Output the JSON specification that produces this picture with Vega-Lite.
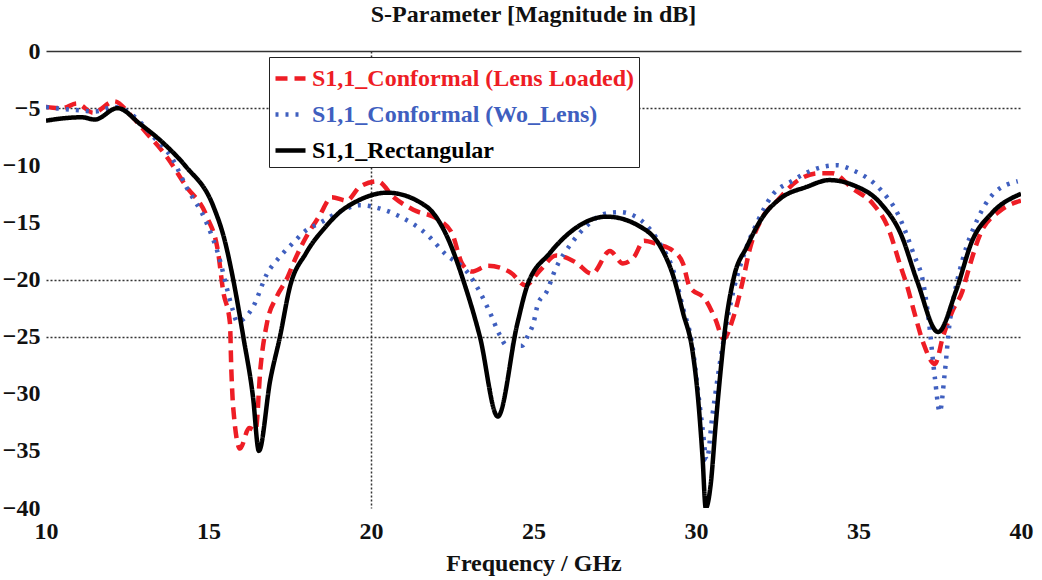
{
  "$schema": "https://vega.github.io/schema/vega-lite/v6.json",
  "autosize": "none",
  "width": 975,
  "height": 457,
  "padding": {"left": 46, "top": 51, "right": 21, "bottom": 72},
  "background": "white",
  "title": {"text": "S-Parameter [Magnitude in dB]", "font": "Liberation Serif", "fontSize": 24, "fontWeight": "bold", "color": "#111", "offset": 12, "anchor": "middle"},
  "config": {"view": {"stroke": null}},
  "datasets": {
    "curves": [
      {"f": 10.0, "s": -4.9, "series": "S1,1_Conformal (Lens Loaded)"},
      {"f": 10.5, "s": -5.0, "series": "S1,1_Conformal (Lens Loaded)"},
      {"f": 10.95, "s": -4.6, "series": "S1,1_Conformal (Lens Loaded)"},
      {"f": 11.45, "s": -5.4, "series": "S1,1_Conformal (Lens Loaded)"},
      {"f": 12.1, "s": -4.4, "series": "S1,1_Conformal (Lens Loaded)"},
      {"f": 12.6, "s": -5.6, "series": "S1,1_Conformal (Lens Loaded)"},
      {"f": 13.1, "s": -7.2, "series": "S1,1_Conformal (Lens Loaded)"},
      {"f": 13.7, "s": -9.2, "series": "S1,1_Conformal (Lens Loaded)"},
      {"f": 14.3, "s": -11.8, "series": "S1,1_Conformal (Lens Loaded)"},
      {"f": 14.95, "s": -14.5, "series": "S1,1_Conformal (Lens Loaded)"},
      {"f": 15.3, "s": -17.7, "series": "S1,1_Conformal (Lens Loaded)"},
      {"f": 15.45, "s": -21.0, "series": "S1,1_Conformal (Lens Loaded)"},
      {"f": 15.66, "s": -23.8, "series": "S1,1_Conformal (Lens Loaded)"},
      {"f": 15.7, "s": -27.7, "series": "S1,1_Conformal (Lens Loaded)"},
      {"f": 15.76, "s": -31.2, "series": "S1,1_Conformal (Lens Loaded)"},
      {"f": 15.97, "s": -34.8, "series": "S1,1_Conformal (Lens Loaded)"},
      {"f": 16.25, "s": -33.0, "series": "S1,1_Conformal (Lens Loaded)"},
      {"f": 16.45, "s": -33.2, "series": "S1,1_Conformal (Lens Loaded)"},
      {"f": 16.6, "s": -27.7, "series": "S1,1_Conformal (Lens Loaded)"},
      {"f": 16.8, "s": -23.8, "series": "S1,1_Conformal (Lens Loaded)"},
      {"f": 17.1, "s": -21.5, "series": "S1,1_Conformal (Lens Loaded)"},
      {"f": 17.4, "s": -20.0, "series": "S1,1_Conformal (Lens Loaded)"},
      {"f": 17.7, "s": -18.0, "series": "S1,1_Conformal (Lens Loaded)"},
      {"f": 18.0, "s": -16.3, "series": "S1,1_Conformal (Lens Loaded)"},
      {"f": 18.4, "s": -14.5, "series": "S1,1_Conformal (Lens Loaded)"},
      {"f": 18.8, "s": -12.8, "series": "S1,1_Conformal (Lens Loaded)"},
      {"f": 19.25, "s": -13.1, "series": "S1,1_Conformal (Lens Loaded)"},
      {"f": 19.65, "s": -11.9, "series": "S1,1_Conformal (Lens Loaded)"},
      {"f": 20.2, "s": -11.4, "series": "S1,1_Conformal (Lens Loaded)"},
      {"f": 20.7, "s": -12.8, "series": "S1,1_Conformal (Lens Loaded)"},
      {"f": 21.3, "s": -13.9, "series": "S1,1_Conformal (Lens Loaded)"},
      {"f": 22.1, "s": -14.8, "series": "S1,1_Conformal (Lens Loaded)"},
      {"f": 22.5, "s": -16.0, "series": "S1,1_Conformal (Lens Loaded)"},
      {"f": 22.8, "s": -18.6, "series": "S1,1_Conformal (Lens Loaded)"},
      {"f": 23.1, "s": -19.3, "series": "S1,1_Conformal (Lens Loaded)"},
      {"f": 23.6, "s": -18.8, "series": "S1,1_Conformal (Lens Loaded)"},
      {"f": 24.3, "s": -19.4, "series": "S1,1_Conformal (Lens Loaded)"},
      {"f": 24.75, "s": -20.5, "series": "S1,1_Conformal (Lens Loaded)"},
      {"f": 25.2, "s": -19.2, "series": "S1,1_Conformal (Lens Loaded)"},
      {"f": 25.7, "s": -17.9, "series": "S1,1_Conformal (Lens Loaded)"},
      {"f": 26.3, "s": -18.5, "series": "S1,1_Conformal (Lens Loaded)"},
      {"f": 26.8, "s": -19.5, "series": "S1,1_Conformal (Lens Loaded)"},
      {"f": 27.35, "s": -17.5, "series": "S1,1_Conformal (Lens Loaded)"},
      {"f": 27.75, "s": -18.6, "series": "S1,1_Conformal (Lens Loaded)"},
      {"f": 28.1, "s": -18.0, "series": "S1,1_Conformal (Lens Loaded)"},
      {"f": 28.4, "s": -16.6, "series": "S1,1_Conformal (Lens Loaded)"},
      {"f": 28.8, "s": -16.9, "series": "S1,1_Conformal (Lens Loaded)"},
      {"f": 29.3, "s": -17.5, "series": "S1,1_Conformal (Lens Loaded)"},
      {"f": 29.6, "s": -18.6, "series": "S1,1_Conformal (Lens Loaded)"},
      {"f": 29.8, "s": -20.6, "series": "S1,1_Conformal (Lens Loaded)"},
      {"f": 30.3, "s": -21.8, "series": "S1,1_Conformal (Lens Loaded)"},
      {"f": 30.6, "s": -23.5, "series": "S1,1_Conformal (Lens Loaded)"},
      {"f": 30.85, "s": -25.2, "series": "S1,1_Conformal (Lens Loaded)"},
      {"f": 31.15, "s": -23.3, "series": "S1,1_Conformal (Lens Loaded)"},
      {"f": 31.45, "s": -20.0, "series": "S1,1_Conformal (Lens Loaded)"},
      {"f": 31.65, "s": -17.4, "series": "S1,1_Conformal (Lens Loaded)"},
      {"f": 32.06, "s": -14.5, "series": "S1,1_Conformal (Lens Loaded)"},
      {"f": 32.5, "s": -13.1, "series": "S1,1_Conformal (Lens Loaded)"},
      {"f": 33.1, "s": -11.4, "series": "S1,1_Conformal (Lens Loaded)"},
      {"f": 33.8, "s": -10.7, "series": "S1,1_Conformal (Lens Loaded)"},
      {"f": 34.2, "s": -10.7, "series": "S1,1_Conformal (Lens Loaded)"},
      {"f": 34.8, "s": -12.0, "series": "S1,1_Conformal (Lens Loaded)"},
      {"f": 35.45, "s": -13.4, "series": "S1,1_Conformal (Lens Loaded)"},
      {"f": 35.9, "s": -15.4, "series": "S1,1_Conformal (Lens Loaded)"},
      {"f": 36.3, "s": -18.9, "series": "S1,1_Conformal (Lens Loaded)"},
      {"f": 36.5, "s": -20.6, "series": "S1,1_Conformal (Lens Loaded)"},
      {"f": 36.7, "s": -22.7, "series": "S1,1_Conformal (Lens Loaded)"},
      {"f": 37.0, "s": -25.6, "series": "S1,1_Conformal (Lens Loaded)"},
      {"f": 37.35, "s": -27.4, "series": "S1,1_Conformal (Lens Loaded)"},
      {"f": 37.6, "s": -25.0, "series": "S1,1_Conformal (Lens Loaded)"},
      {"f": 37.9, "s": -22.7, "series": "S1,1_Conformal (Lens Loaded)"},
      {"f": 38.2, "s": -21.0, "series": "S1,1_Conformal (Lens Loaded)"},
      {"f": 38.35, "s": -19.5, "series": "S1,1_Conformal (Lens Loaded)"},
      {"f": 38.75, "s": -16.0, "series": "S1,1_Conformal (Lens Loaded)"},
      {"f": 39.35, "s": -14.0, "series": "S1,1_Conformal (Lens Loaded)"},
      {"f": 40.0, "s": -13.1, "series": "S1,1_Conformal (Lens Loaded)"},

      {"f": 10.0, "s": -4.9, "series": "S1,1_Conformal (Wo_Lens)"},
      {"f": 10.6, "s": -5.1, "series": "S1,1_Conformal (Wo_Lens)"},
      {"f": 11.1, "s": -5.2, "series": "S1,1_Conformal (Wo_Lens)"},
      {"f": 11.5, "s": -5.3, "series": "S1,1_Conformal (Wo_Lens)"},
      {"f": 12.1, "s": -4.9, "series": "S1,1_Conformal (Wo_Lens)"},
      {"f": 12.7, "s": -5.7, "series": "S1,1_Conformal (Wo_Lens)"},
      {"f": 13.3, "s": -7.5, "series": "S1,1_Conformal (Wo_Lens)"},
      {"f": 13.9, "s": -9.5, "series": "S1,1_Conformal (Wo_Lens)"},
      {"f": 14.3, "s": -11.8, "series": "S1,1_Conformal (Wo_Lens)"},
      {"f": 14.95, "s": -15.1, "series": "S1,1_Conformal (Wo_Lens)"},
      {"f": 15.35, "s": -18.3, "series": "S1,1_Conformal (Wo_Lens)"},
      {"f": 15.55, "s": -20.6, "series": "S1,1_Conformal (Wo_Lens)"},
      {"f": 15.75, "s": -22.7, "series": "S1,1_Conformal (Wo_Lens)"},
      {"f": 15.88, "s": -23.7, "series": "S1,1_Conformal (Wo_Lens)"},
      {"f": 16.37, "s": -22.4, "series": "S1,1_Conformal (Wo_Lens)"},
      {"f": 16.8, "s": -19.5, "series": "S1,1_Conformal (Wo_Lens)"},
      {"f": 17.2, "s": -18.0, "series": "S1,1_Conformal (Wo_Lens)"},
      {"f": 17.6, "s": -16.8, "series": "S1,1_Conformal (Wo_Lens)"},
      {"f": 18.0, "s": -15.7, "series": "S1,1_Conformal (Wo_Lens)"},
      {"f": 18.4, "s": -15.1, "series": "S1,1_Conformal (Wo_Lens)"},
      {"f": 18.95, "s": -14.2, "series": "S1,1_Conformal (Wo_Lens)"},
      {"f": 19.65, "s": -13.5, "series": "S1,1_Conformal (Wo_Lens)"},
      {"f": 20.4, "s": -13.9, "series": "S1,1_Conformal (Wo_Lens)"},
      {"f": 20.9, "s": -14.5, "series": "S1,1_Conformal (Wo_Lens)"},
      {"f": 21.7, "s": -16.0, "series": "S1,1_Conformal (Wo_Lens)"},
      {"f": 22.3, "s": -17.8, "series": "S1,1_Conformal (Wo_Lens)"},
      {"f": 22.95, "s": -19.3, "series": "S1,1_Conformal (Wo_Lens)"},
      {"f": 23.35, "s": -21.1, "series": "S1,1_Conformal (Wo_Lens)"},
      {"f": 23.66, "s": -22.9, "series": "S1,1_Conformal (Wo_Lens)"},
      {"f": 23.97, "s": -24.9, "series": "S1,1_Conformal (Wo_Lens)"},
      {"f": 24.18, "s": -25.8, "series": "S1,1_Conformal (Wo_Lens)"},
      {"f": 24.65, "s": -25.8, "series": "S1,1_Conformal (Wo_Lens)"},
      {"f": 24.83, "s": -24.9, "series": "S1,1_Conformal (Wo_Lens)"},
      {"f": 25.0, "s": -23.8, "series": "S1,1_Conformal (Wo_Lens)"},
      {"f": 25.14, "s": -22.1, "series": "S1,1_Conformal (Wo_Lens)"},
      {"f": 25.4, "s": -21.1, "series": "S1,1_Conformal (Wo_Lens)"},
      {"f": 25.66, "s": -19.2, "series": "S1,1_Conformal (Wo_Lens)"},
      {"f": 26.2, "s": -16.7, "series": "S1,1_Conformal (Wo_Lens)"},
      {"f": 26.6, "s": -15.4, "series": "S1,1_Conformal (Wo_Lens)"},
      {"f": 27.25, "s": -14.2, "series": "S1,1_Conformal (Wo_Lens)"},
      {"f": 27.65, "s": -14.1, "series": "S1,1_Conformal (Wo_Lens)"},
      {"f": 28.3, "s": -14.8, "series": "S1,1_Conformal (Wo_Lens)"},
      {"f": 28.9, "s": -16.9, "series": "S1,1_Conformal (Wo_Lens)"},
      {"f": 29.3, "s": -19.2, "series": "S1,1_Conformal (Wo_Lens)"},
      {"f": 29.6, "s": -22.5, "series": "S1,1_Conformal (Wo_Lens)"},
      {"f": 29.9, "s": -26.0, "series": "S1,1_Conformal (Wo_Lens)"},
      {"f": 30.05, "s": -29.5, "series": "S1,1_Conformal (Wo_Lens)"},
      {"f": 30.2, "s": -33.0, "series": "S1,1_Conformal (Wo_Lens)"},
      {"f": 30.33, "s": -35.8, "series": "S1,1_Conformal (Wo_Lens)"},
      {"f": 30.5, "s": -32.0, "series": "S1,1_Conformal (Wo_Lens)"},
      {"f": 30.85, "s": -25.3, "series": "S1,1_Conformal (Wo_Lens)"},
      {"f": 31.15, "s": -21.0, "series": "S1,1_Conformal (Wo_Lens)"},
      {"f": 31.5, "s": -17.6, "series": "S1,1_Conformal (Wo_Lens)"},
      {"f": 31.9, "s": -14.9, "series": "S1,1_Conformal (Wo_Lens)"},
      {"f": 32.3, "s": -12.8, "series": "S1,1_Conformal (Wo_Lens)"},
      {"f": 33.0, "s": -11.3, "series": "S1,1_Conformal (Wo_Lens)"},
      {"f": 33.6, "s": -10.4, "series": "S1,1_Conformal (Wo_Lens)"},
      {"f": 34.35, "s": -10.0, "series": "S1,1_Conformal (Wo_Lens)"},
      {"f": 34.8, "s": -10.4, "series": "S1,1_Conformal (Wo_Lens)"},
      {"f": 35.7, "s": -12.2, "series": "S1,1_Conformal (Wo_Lens)"},
      {"f": 36.2, "s": -14.2, "series": "S1,1_Conformal (Wo_Lens)"},
      {"f": 36.7, "s": -17.8, "series": "S1,1_Conformal (Wo_Lens)"},
      {"f": 37.0, "s": -20.4, "series": "S1,1_Conformal (Wo_Lens)"},
      {"f": 37.15, "s": -23.3, "series": "S1,1_Conformal (Wo_Lens)"},
      {"f": 37.35, "s": -28.6, "series": "S1,1_Conformal (Wo_Lens)"},
      {"f": 37.5, "s": -31.6, "series": "S1,1_Conformal (Wo_Lens)"},
      {"f": 37.65, "s": -28.3, "series": "S1,1_Conformal (Wo_Lens)"},
      {"f": 37.8, "s": -23.9, "series": "S1,1_Conformal (Wo_Lens)"},
      {"f": 37.95, "s": -21.3, "series": "S1,1_Conformal (Wo_Lens)"},
      {"f": 38.2, "s": -18.3, "series": "S1,1_Conformal (Wo_Lens)"},
      {"f": 38.65, "s": -14.8, "series": "S1,1_Conformal (Wo_Lens)"},
      {"f": 39.15, "s": -12.5, "series": "S1,1_Conformal (Wo_Lens)"},
      {"f": 39.9, "s": -11.4, "series": "S1,1_Conformal (Wo_Lens)"},

      {"f": 10.0, "s": -6.1, "series": "S1,1_Rectangular"},
      {"f": 10.5, "s": -5.9, "series": "S1,1_Rectangular"},
      {"f": 11.1, "s": -5.8, "series": "S1,1_Rectangular"},
      {"f": 11.5, "s": -6.0, "series": "S1,1_Rectangular"},
      {"f": 12.2, "s": -5.0, "series": "S1,1_Rectangular"},
      {"f": 12.9, "s": -6.4, "series": "S1,1_Rectangular"},
      {"f": 13.7, "s": -8.3, "series": "S1,1_Rectangular"},
      {"f": 14.3, "s": -10.1, "series": "S1,1_Rectangular"},
      {"f": 15.15, "s": -13.6, "series": "S1,1_Rectangular"},
      {"f": 15.5, "s": -16.6, "series": "S1,1_Rectangular"},
      {"f": 15.76, "s": -20.0, "series": "S1,1_Rectangular"},
      {"f": 16.07, "s": -25.0, "series": "S1,1_Rectangular"},
      {"f": 16.37, "s": -30.3, "series": "S1,1_Rectangular"},
      {"f": 16.55, "s": -35.0, "series": "S1,1_Rectangular"},
      {"f": 16.9, "s": -28.8, "series": "S1,1_Rectangular"},
      {"f": 17.2, "s": -25.0, "series": "S1,1_Rectangular"},
      {"f": 17.5, "s": -20.7, "series": "S1,1_Rectangular"},
      {"f": 18.0, "s": -17.7, "series": "S1,1_Rectangular"},
      {"f": 18.6, "s": -15.4, "series": "S1,1_Rectangular"},
      {"f": 19.0, "s": -14.2, "series": "S1,1_Rectangular"},
      {"f": 19.6, "s": -13.1, "series": "S1,1_Rectangular"},
      {"f": 20.5, "s": -12.4, "series": "S1,1_Rectangular"},
      {"f": 21.7, "s": -13.6, "series": "S1,1_Rectangular"},
      {"f": 22.3, "s": -16.0, "series": "S1,1_Rectangular"},
      {"f": 22.9, "s": -20.6, "series": "S1,1_Rectangular"},
      {"f": 23.35, "s": -25.0, "series": "S1,1_Rectangular"},
      {"f": 23.9, "s": -32.0, "series": "S1,1_Rectangular"},
      {"f": 24.5, "s": -23.9, "series": "S1,1_Rectangular"},
      {"f": 24.8, "s": -20.6, "series": "S1,1_Rectangular"},
      {"f": 25.5, "s": -17.7, "series": "S1,1_Rectangular"},
      {"f": 26.2, "s": -15.7, "series": "S1,1_Rectangular"},
      {"f": 27.25, "s": -14.5, "series": "S1,1_Rectangular"},
      {"f": 28.3, "s": -15.4, "series": "S1,1_Rectangular"},
      {"f": 28.9, "s": -17.1, "series": "S1,1_Rectangular"},
      {"f": 29.3, "s": -19.7, "series": "S1,1_Rectangular"},
      {"f": 29.6, "s": -22.9, "series": "S1,1_Rectangular"},
      {"f": 29.9, "s": -26.4, "series": "S1,1_Rectangular"},
      {"f": 30.05, "s": -30.0, "series": "S1,1_Rectangular"},
      {"f": 30.2, "s": -35.5, "series": "S1,1_Rectangular"},
      {"f": 30.3, "s": -40.0, "series": "S1,1_Rectangular"},
      {"f": 30.45, "s": -38.0, "series": "S1,1_Rectangular"},
      {"f": 30.6, "s": -32.9, "series": "S1,1_Rectangular"},
      {"f": 30.75, "s": -28.2, "series": "S1,1_Rectangular"},
      {"f": 30.9, "s": -24.2, "series": "S1,1_Rectangular"},
      {"f": 31.15, "s": -20.0, "series": "S1,1_Rectangular"},
      {"f": 31.57, "s": -17.1, "series": "S1,1_Rectangular"},
      {"f": 32.06, "s": -14.5, "series": "S1,1_Rectangular"},
      {"f": 32.6, "s": -12.9, "series": "S1,1_Rectangular"},
      {"f": 33.4, "s": -11.9, "series": "S1,1_Rectangular"},
      {"f": 34.1, "s": -11.3, "series": "S1,1_Rectangular"},
      {"f": 34.8, "s": -11.7, "series": "S1,1_Rectangular"},
      {"f": 35.7, "s": -13.4, "series": "S1,1_Rectangular"},
      {"f": 36.3, "s": -16.0, "series": "S1,1_Rectangular"},
      {"f": 36.8, "s": -20.1, "series": "S1,1_Rectangular"},
      {"f": 37.45, "s": -24.6, "series": "S1,1_Rectangular"},
      {"f": 38.0, "s": -21.0, "series": "S1,1_Rectangular"},
      {"f": 38.5, "s": -16.6, "series": "S1,1_Rectangular"},
      {"f": 39.1, "s": -14.2, "series": "S1,1_Rectangular"},
      {"f": 40.0, "s": -12.5, "series": "S1,1_Rectangular"}
    ]
  },
  "data": {"name": "curves"},
  "mark": {"type": "line", "strokeWidth": 4.5, "interpolate": "monotone", "clip": true},
  "encoding": {
    "x": {
      "field": "f", "type": "quantitative",
      "scale": {"domain": [10, 40], "nice": false, "zero": false},
      "axis": {
        "values": [10, 15, 20, 25, 30, 35, 40],
        "title": "Frequency / GHz",
        "titleFont": "Liberation Serif", "titleFontSize": 24, "titleFontWeight": "bold", "titleColor": "#111",
        "titlePadding": 8,
        "labelFont": "Liberation Serif", "labelFontSize": 24, "labelFontWeight": "bold", "labelColor": "#111",
        "labelPadding": 11, "labelFlush": false,
        "ticks": false, "domain": false,
        "grid": true, "gridColor": "#333", "gridDash": [2, 2], "gridWidth": 1.5,
        "gridOpacity": {"condition": {"test": "datum.value === 20", "value": 1}, "value": 0}
      }
    },
    "y": {
      "field": "s", "type": "quantitative",
      "scale": {"domain": [-40, 0], "nice": false, "zero": false},
      "axis": {
        "values": [0, -5, -10, -15, -20, -25, -30, -35, -40],
        "title": null,
        "labelFont": "Liberation Serif", "labelFontSize": 24, "labelFontWeight": "bold", "labelColor": "#111",
        "labelPadding": 6, "labelFlush": false,
        "ticks": false, "domain": false,
        "grid": true, "gridColor": "#333", "gridWidth": 1.5,
        "gridDash": {"condition": {"test": "datum.value === 0", "value": []}, "value": [2, 2]},
        "gridOpacity": {"condition": {"test": "datum.value === 0 || datum.value === -5 || datum.value === -20 || datum.value === -25", "value": 1}, "value": 0}
      }
    },
    "color": {
      "field": "series", "type": "nominal",
      "scale": {"domain": ["S1,1_Conformal (Lens Loaded)", "S1,1_Conformal (Wo_Lens)", "S1,1_Rectangular"], "range": ["#ee1d25", "#3f5fbf", "#000000"]},
      "legend": {
        "title": null, "orient": "none", "legendX": 223, "legendY": 6,
        "fillColor": "white", "strokeColor": "#222", "padding": 4,
        "symbolType": "stroke", "symbolSize": 900, "symbolStrokeWidth": 4.5,
        "labelFont": "Liberation Serif", "labelFontSize": 24, "labelFontWeight": "bold", "labelLimit": 1000,
        "labelOffset": 4, "rowPadding": 6,
        "encode": {"labels": {"update": {"fill": {"scale": "color", "field": "value"}}}}
      }
    },
    "strokeDash": {
      "field": "series", "type": "nominal",
      "scale": {"domain": ["S1,1_Conformal (Lens Loaded)", "S1,1_Conformal (Wo_Lens)", "S1,1_Rectangular"], "range": [[12, 7], [3, 7], [1, 0]]},
      "legend": null
    }
  }
}
